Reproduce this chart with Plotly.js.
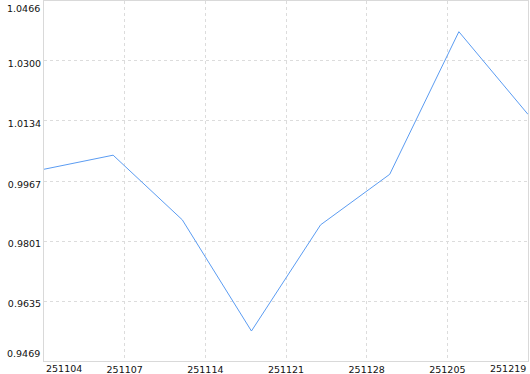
<!DOCTYPE html>
<html>
<head>
<meta charset="utf-8">
<script src="https://cdn.plot.ly/plotly-3.0.1.min.js"></script>
<style>html,body{margin:0;padding:0;background:#fff;}#chart{width:530px;height:374px;}</style>
</head>
<body>
<div id="chart"></div>
<script>
// data points (one per trading week)
const dates = ["251104", "251107", "251114", "251121", "251128", "251205", "251212", "251219"];
const values = [1.0000, 1.0039, 0.9860, 0.9552, 0.9846, 0.9986, 1.0381, 1.0152];
// axis tick labels
const xTickLabels = ["251104", "251107", "251114", "251121", "251128", "251205", "251219"];
const yTickLabels = ["0.9469", "0.9635", "0.9801", "0.9967", "1.0134", "1.0300", "1.0466"];

const xIdx = dates.map((d, i) => i);
const xMax = dates.length - 1;
const nDiv = xTickLabels.length - 1;
const xTickVals = xTickLabels.map((t, i) => i * xMax / nDiv);
const yTickVals = yTickLabels.map(Number);
const yLo = yTickVals[0], yHi = yTickVals[yTickVals.length - 1];
const nY = yTickLabels.length;

const fontSpec = {family: "DejaVu Sans, Verdana, sans-serif", size: 9.5, color: "#111"};

const trace = {
  x: xIdx,
  y: values,
  text: dates,
  type: "scatter",
  mode: "lines",
  line: {color: "#5b9cf2", width: 1},
  hoverinfo: "text+y"
};

const layout = {
  width: 530, height: 374,
  margin: {l: 44, r: 2, t: 1, b: 13, pad: 0},
  paper_bgcolor: "#fff", plot_bgcolor: "#fff",
  showlegend: false,
  font: fontSpec,
  xaxis: {
    range: [0, xMax],
    tickmode: "array",
    tickvals: xTickVals.slice(1, -1),
    ticktext: xTickLabels.slice(1, -1),
    showgrid: true, gridcolor: "#dcdcdc", griddash: "3px,3px", gridwidth: 1,
    showline: true, linecolor: "#d9d9d9", linewidth: 1, mirror: true,
    zeroline: false, ticks: "", ticklen: 0, automargin: false,
    tickfont: fontSpec, fixedrange: true
  },
  yaxis: {
    range: [yLo, yHi],
    tickmode: "array",
    tickvals: yTickVals.slice(1, -1),
    ticktext: yTickLabels.slice(1, -1),
    showgrid: true, gridcolor: "#dcdcdc", griddash: "3px,3px", gridwidth: 1,
    showline: true, linecolor: "#d9d9d9", linewidth: 1, mirror: true,
    zeroline: false, ticks: "", ticklen: 0, automargin: false,
    ticklabelshift: 3,
    tickfont: fontSpec, fixedrange: true
  },
  annotations: [
    {xref: "paper", yref: "paper", x: 0, y: 0, xanchor: "left", yanchor: "top",
     yshift: 0, text: xTickLabels[0], showarrow: false, font: fontSpec},
    {xref: "paper", yref: "paper", x: 1, y: 0, xanchor: "right", yanchor: "top",
     yshift: 0, text: xTickLabels[xTickLabels.length - 1], showarrow: false, font: fontSpec},
    {xref: "paper", yref: "paper", x: 0, y: 0, xanchor: "right", yanchor: "bottom",
     xshift: -2, yshift: 0, text: yTickLabels[0], showarrow: false, font: fontSpec},
    {xref: "paper", yref: "paper", x: 0, y: 1, xanchor: "right", yanchor: "top",
     xshift: -2, yshift: 0, text: yTickLabels[nY - 1], showarrow: false, font: fontSpec}
  ]
};

Plotly.newPlot("chart", [trace], layout, {displayModeBar: false, staticPlot: true});
</script>
</body>
</html>
